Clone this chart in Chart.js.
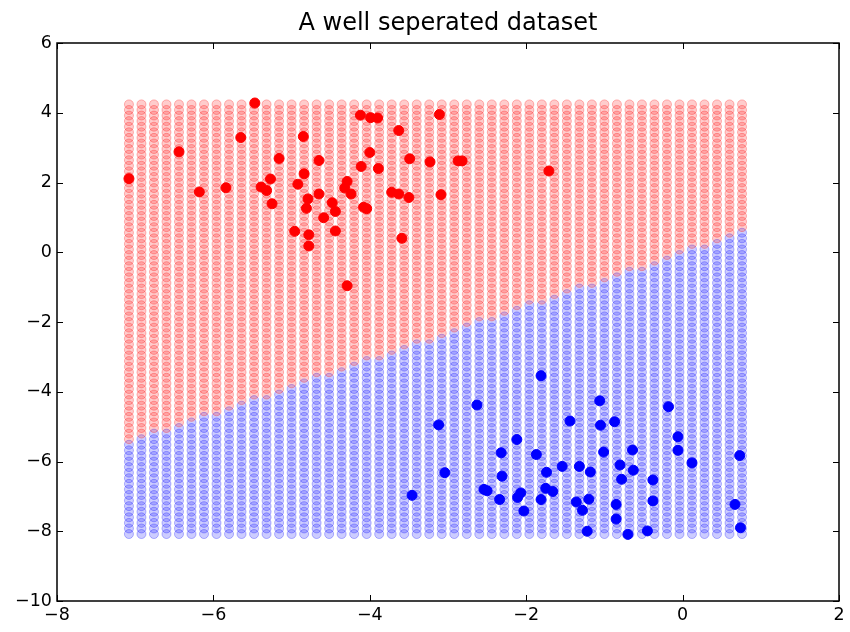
<!DOCTYPE html>
<html>
<head>
<meta charset="utf-8">
<script src="https://cdn.jsdelivr.net/npm/chart.js@4/dist/chart.umd.min.js"></script>
<style>
  html, body { margin: 0; padding: 0; background: #ffffff; }
  #wrap { width: 850px; height: 632px; }
</style>
</head>
<body>
<div id="wrap"><canvas id="c" width="850" height="632"></canvas></div>
<script>
// ---------- data ----------
const titleText = 'A well seperated dataset';

const redX = [-7.08, -6.44, -6.18, -5.84, -5.47, -5.65, -4.85, -5.16, -4.65, -5.27,
              -5.39, -5.32, -5.25, -4.84, -4.92, -4.79, -4.81, -4.65, -4.96, -4.78,
              -4.78, -4.59, -4.48, -4.44, -4.44, -4.29, -4.32, -4.24, -4.29, -4.12,
              -3.99, -3.90, -4.00, -4.11, -3.89, -4.08, -4.04, -3.63, -3.49, -3.72,
              -3.63, -3.50, -3.59, -3.11, -3.23, -3.09, -2.87, -2.82, -1.71];
const redY = [2.11, 2.88, 1.73, 1.85, 4.28, 3.29, 3.32, 2.69, 2.63, 2.10,
              1.87, 1.77, 1.39, 2.25, 1.95, 1.53, 1.26, 1.67, 0.60, 0.50,
              0.18, 0.99, 1.42, 1.17, 0.61, 2.03, 1.84, 1.67, -0.96, 3.93,
              3.86, 3.85, 2.86, 2.46, 2.40, 1.29, 1.25, 3.49, 2.68, 1.72,
              1.67, 1.57, 0.40, 3.95, 2.59, 1.65, 2.62, 2.62, 2.33];

const blueX = [-1.81, -2.63, -3.12, -1.06, -1.44, -1.05, -0.87, -2.12, -2.32, -1.87,
               -1.01, -0.64, -3.04, -2.31, -1.74, -1.54, -1.32, -1.18, -0.80, -0.63,
               -0.78, -3.46, -2.54, -2.50, -2.34, -2.11, -2.07, -1.75, -1.66, -2.03,
               -1.81, -1.36, -1.20, -1.28, -0.85, -0.85, -1.22, -0.70, -0.18, -0.06,
               -0.06, 0.12, 0.73, -0.38, -0.38, 0.67, -0.45, 0.74];
const blueY = [-3.54, -4.38, -4.95, -4.26, -4.84, -4.96, -4.86, -5.37, -5.75, -5.80,
               -5.73, -5.67, -6.32, -6.42, -6.31, -6.14, -6.14, -6.30, -6.10, -6.25,
               -6.51, -6.97, -6.80, -6.84, -7.09, -7.03, -6.90, -6.77, -6.86, -7.42,
               -7.09, -7.16, -7.08, -7.40, -7.23, -7.65, -8.00, -8.09, -4.43, -5.29,
               -5.68, -6.04, -5.83, -6.53, -7.13, -7.23, -7.99, -7.90];

// mesh of the decision surface (grid columns / rows as seen)
const gridX = [-7.08, -6.92, -6.76, -6.60, -6.44, -6.28, -6.12, -5.96, -5.80, -5.64,
               -5.48, -5.32, -5.16, -5.00, -4.84, -4.68, -4.52, -4.36, -4.20, -4.04,
               -3.88, -3.72, -3.56, -3.40, -3.24, -3.08, -2.92, -2.76, -2.60, -2.44,
               -2.28, -2.12, -1.96, -1.80, -1.64, -1.48, -1.32, -1.16, -1.00, -0.84,
               -0.68, -0.52, -0.36, -0.20, -0.04, 0.12, 0.28, 0.44, 0.60, 0.76];
const gridY = [-8.08, -7.92, -7.76, -7.60, -7.44, -7.28, -7.12, -6.96, -6.80, -6.64,
               -6.48, -6.32, -6.16, -6.00, -5.84, -5.68, -5.52, -5.36, -5.20, -5.04,
               -4.88, -4.72, -4.56, -4.40, -4.24, -4.08, -3.92, -3.76, -3.60, -3.44,
               -3.28, -3.12, -2.96, -2.80, -2.64, -2.48, -2.32, -2.16, -2.00, -1.84,
               -1.68, -1.52, -1.36, -1.20, -1.04, -0.88, -0.72, -0.56, -0.40, -0.24,
               -0.08, 0.08, 0.24, 0.40, 0.56, 0.72, 0.88, 1.04, 1.20, 1.36,
               1.52, 1.68, 1.84, 2.00, 2.16, 2.32, 2.48, 2.64, 2.80, 2.96,
               3.12, 3.28, 3.44, 3.60, 3.76, 3.92, 4.08, 4.24];
// separating line (two end points)
const boundaryX = [-7.08, 0.76];
const boundaryY = [-5.43, 0.58];

const xTicks = [-8, -6, -4, -2, 0, 2];
const yTicks = [-10, -8, -6, -4, -2, 0, 2, 4, 6];

// ---------- build datasets ----------
function boundaryAt(x) {
  const t = (x - boundaryX[0]) / (boundaryX[1] - boundaryX[0]);
  return boundaryY[0] + t * (boundaryY[1] - boundaryY[0]);
}
const meshRed = [], meshBlue = [];
for (const gy of gridY) {
  for (const gx of gridX) {
    if (gy > boundaryAt(gx)) meshRed.push({x: gx, y: gy});
    else meshBlue.push({x: gx, y: gy});
  }
}
const redPts = redX.map((x, i) => ({x, y: redY[i]}));
const bluePts = blueX.map((x, i) => ({x, y: blueY[i]}));

const FONT = "'DejaVu Sans', 'Liberation Sans', sans-serif";
const fmt = v => (v < 0 ? '\u2212' + Math.abs(v) : String(v));

const framePlugin = {
  id: 'frame',
  afterDraw(chart) {
    const {ctx, chartArea: a, scales} = chart;
    ctx.save();
    ctx.strokeStyle = '#000';
    ctx.lineWidth = 1;
    const L = 6;
    ctx.beginPath();
    for (const v of xTicks) {
      const px = Math.round(scales.x.getPixelForValue(v)) + 0.5;
      ctx.moveTo(px, a.bottom); ctx.lineTo(px, a.bottom - L);
      ctx.moveTo(px, a.top); ctx.lineTo(px, a.top + L);
    }
    for (const v of yTicks) {
      const py = Math.round(scales.y.getPixelForValue(v)) + 0.5;
      ctx.moveTo(a.left, py); ctx.lineTo(a.left + L, py);
      ctx.moveTo(a.right, py); ctx.lineTo(a.right - L, py);
    }
    ctx.stroke();
    ctx.lineWidth = 1.5;
    ctx.strokeRect(a.left, a.top, a.right - a.left, a.bottom - a.top);
    // title centred over the axes
    ctx.fillStyle = '#000';
    ctx.font = '24px ' + FONT;
    ctx.textAlign = 'center';
    ctx.textBaseline = 'alphabetic';
    ctx.fillText(titleText, (a.left + a.right) / 2, 30);
    ctx.restore();
  }
};

new Chart(document.getElementById('c'), {
  type: 'scatter',
  data: {
    datasets: [
      { label: 'mesh red', data: meshRed, pointRadius: 4.5, pointBorderWidth: 1,
        pointBackgroundColor: 'rgba(255,0,0,0.2)', pointBorderColor: 'rgba(255,0,0,0.28)' },
      { label: 'mesh blue', data: meshBlue, pointRadius: 4.5, pointBorderWidth: 1,
        pointBackgroundColor: 'rgba(0,0,255,0.2)', pointBorderColor: 'rgba(0,0,255,0.28)' },
      { label: 'class 0', data: redPts, pointRadius: 5, pointBorderWidth: 1,
        pointBackgroundColor: '#ff0000', pointBorderColor: '#ff0000' },
      { label: 'class 1', data: bluePts, pointRadius: 5, pointBorderWidth: 1,
        pointBackgroundColor: '#0000ff', pointBorderColor: '#0000ff' }
    ]
  },
  options: {
    responsive: false,
    animation: false,
    events: [],
    layout: { padding: { top: 43, right: 11, left: 0, bottom: 0 } },
    plugins: { legend: { display: false }, tooltip: { enabled: false }, title: { display: false } },
    scales: {
      x: {
        type: 'linear', min: -8, max: 2,
        afterBuildTicks: s => { s.ticks = xTicks.map(v => ({value: v})); },
        afterFit: s => { s.height = 31; },
        grid: { display: false, drawTicks: false },
        border: { display: false },
        ticks: { color: '#000', font: { family: FONT, size: 17.5 }, padding: 4,
                 maxRotation: 0, autoSkip: false, callback: fmt }
      },
      y: {
        type: 'linear', min: -10, max: 6,
        afterBuildTicks: s => { s.ticks = yTicks.map(v => ({value: v})); },
        afterFit: s => { s.width = 57; },
        grid: { display: false, drawTicks: false },
        border: { display: false },
        ticks: { color: '#000', font: { family: FONT, size: 17.5 }, padding: 5,
                 autoSkip: false, callback: fmt }
      }
    }
  },
  plugins: [framePlugin]
});
</script>
</body>
</html>
